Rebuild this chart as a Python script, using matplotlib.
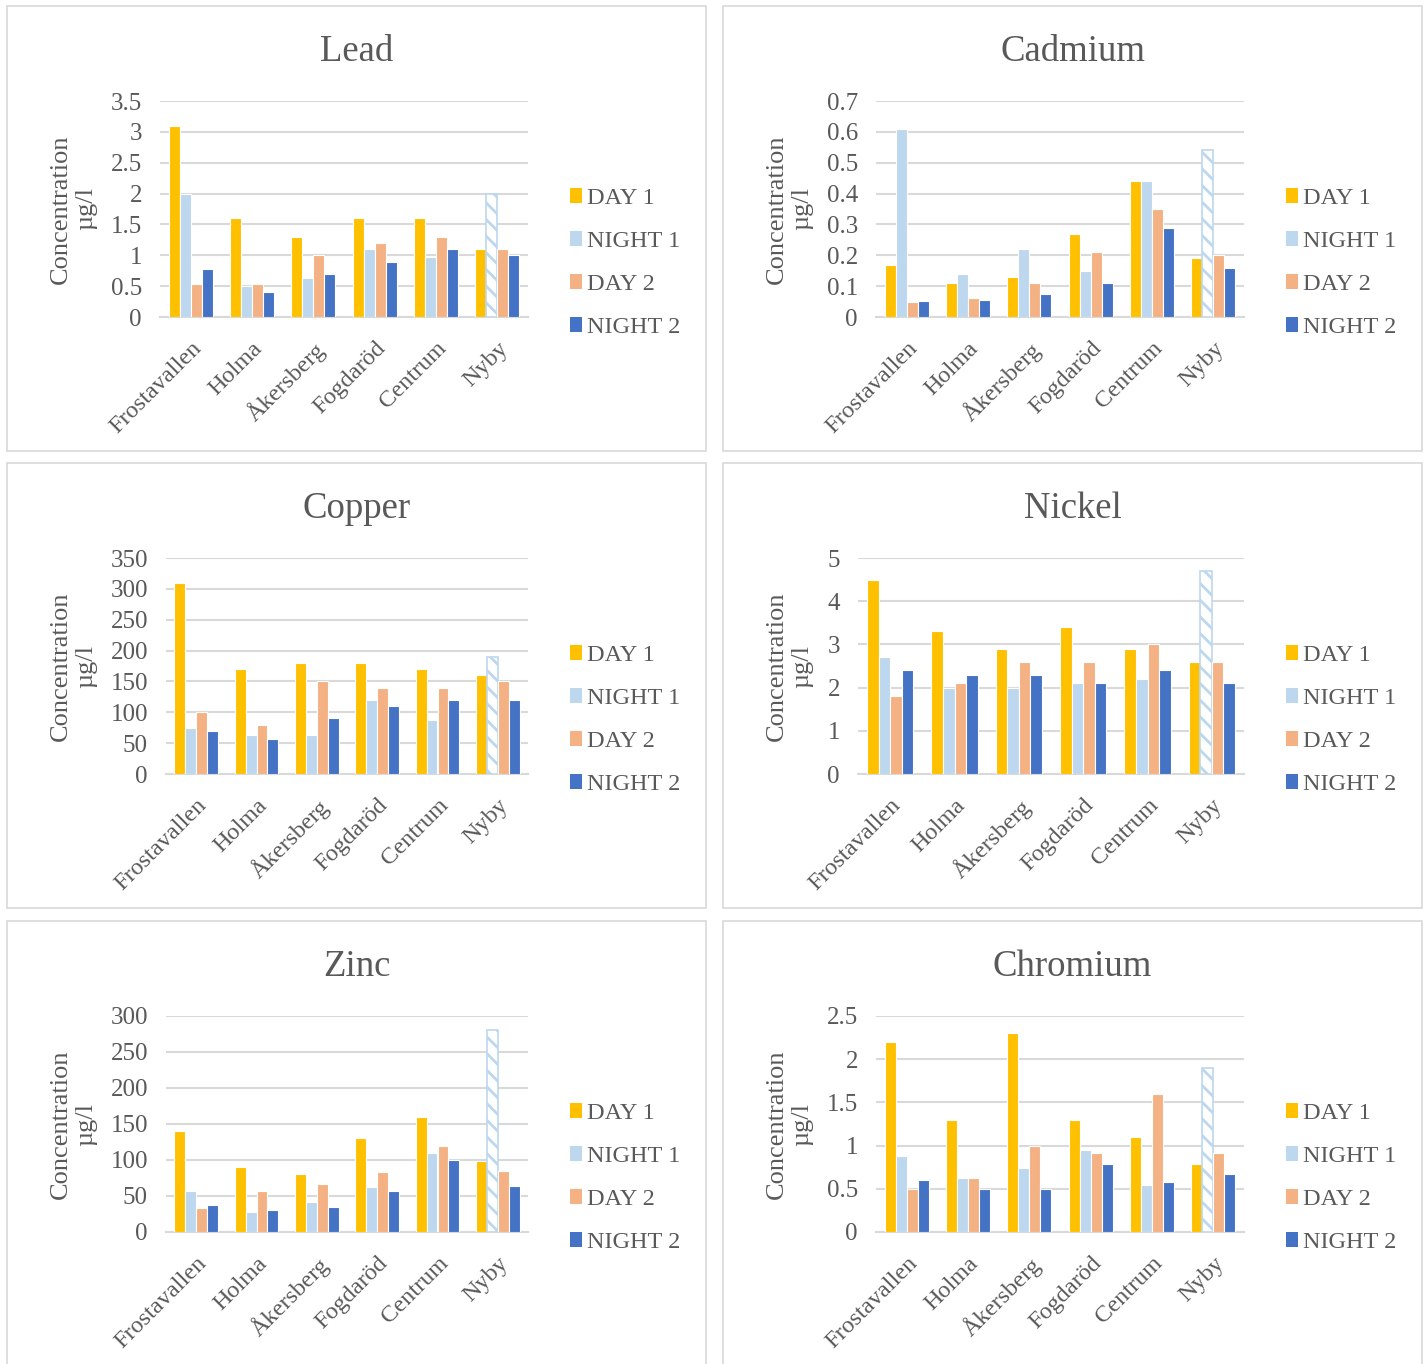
import matplotlib.pyplot as plt
import numpy as np
from matplotlib.patches import Rectangle, Patch

plt.rcParams["font.family"] = ["Liberation Serif", "DejaVu Serif"]
plt.rcParams["hatch.linewidth"] = 2.0

sites = ["Frostavallen", "Holma", "Åkersberg", "Fogdaröd", "Centrum", "Nyby"]
series = ["DAY 1", "NIGHT 1", "DAY 2", "NIGHT 2"]
colors = ["#FFC000", "#BDD7EE", "#F4B183", "#4472C4"]

lead = [
    [3.1, 1.6, 1.3, 1.6, 1.6, 1.1],
    [2.0, 0.5, 0.63, 1.1, 0.98, 2.0],
    [0.54, 0.54, 1.0, 1.2, 1.3, 1.1],
    [0.78, 0.41, 0.69, 0.89, 1.1, 1.0],
]
cadmium = [
    [0.17, 0.11, 0.13, 0.27, 0.44, 0.19],
    [0.61, 0.14, 0.22, 0.15, 0.44, 0.54],
    [0.05, 0.06, 0.11, 0.21, 0.35, 0.20],
    [0.052, 0.055, 0.076, 0.11, 0.29, 0.16],
]
copper = [
    [310, 170, 180, 180, 170, 160],
    [74, 64, 64, 120, 87, 190],
    [100, 79, 150, 140, 140, 150],
    [70, 57, 90, 110, 120, 120],
]
nickel = [
    [4.5, 3.3, 2.9, 3.4, 2.9, 2.6],
    [2.7, 2.0, 2.0, 2.1, 2.2, 4.7],
    [1.8, 2.1, 2.6, 2.6, 3.0, 2.6],
    [2.4, 2.3, 2.3, 2.1, 2.4, 2.1],
]
zinc = [
    [140, 90, 81, 130, 160, 98],
    [57, 28, 41, 63, 110, 280],
    [34, 57, 67, 84, 120, 85],
    [37, 31, 35, 57, 100, 64],
]
chromium = [
    [2.2, 1.3, 2.3, 1.3, 1.1, 0.79],
    [0.88, 0.62, 0.74, 0.95, 0.54, 1.9],
    [0.5, 0.62, 1.0, 0.92, 1.6, 0.91],
    [0.6, 0.5, 0.5, 0.79, 0.58, 0.67],
]

# (title, data, ymax, ystep, tick labels, panel left px, panel top px, plot left offset)
panels = [
    ("Lead", lead, 3.5, 0.5, ["0", "0.5", "1", "1.5", "2", "2.5", "3", "3.5"], 7, 6, 153),
    ("Cadmium", cadmium, 0.7, 0.1, ["0", "0.1", "0.2", "0.3", "0.4", "0.5", "0.6", "0.7"], 723, 6, 153),
    ("Copper", copper, 350, 50, ["0", "50", "100", "150", "200", "250", "300", "350"], 7, 463, 159),
    ("Nickel", nickel, 5, 1, ["0", "1", "2", "3", "4", "5"], 723, 463, 135),
    ("Zinc", zinc, 300, 50, ["0", "50", "100", "150", "200", "250", "300"], 7, 921, 159),
    ("Chromium", chromium, 2.5, 0.5, ["0", "0.5", "1", "1.5", "2", "2.5"], 723, 921, 153),
]

W, H = 1426, 1364
fig = plt.figure(figsize=(W / 100, H / 100), dpi=100)
text_c = "#595959"
grid_c = "#D9D9D9"

def fx(px):
    return px / W

def fy(py):
    return 1 - py / H

for title, data, ymax, ystep, ylabels, px, py, left_off in panels:
    # panel frame, kept behind the axes
    fig.patches.append(Rectangle((fx(px), fy(py + 445)), fx(699), 445 / H,
                                 transform=fig.transFigure, facecolor="white",
                                 edgecolor=grid_c, linewidth=1.2, zorder=-5))
    left = px + left_off
    right = px + 521
    top = py + 95
    bottom = top + 216
    ax = fig.add_axes([fx(left), fy(bottom), fx(right - left), (bottom - top) / H])
    ax.set_facecolor("none")
    ax.set_zorder(2)

    x = np.arange(len(sites))
    bw = 0.18
    for i, vals in enumerate(data):
        pos = x + (i - 1.5) * bw
        bars = ax.bar(pos, vals, width=bw, color=colors[i], edgecolor="white",
                      linewidth=0.8, zorder=3)
        if i == 1:
            # Nyby night 1 drawn with a pattern fill
            b = bars[-1]
            b.set_facecolor("white")
            b.set_edgecolor(colors[1])
            b.set_hatch("\\\\")
            b.set_linewidth(1.2)

    ax.set_xlim(-0.5, len(sites) - 0.5)
    ax.set_ylim(0, ymax)
    ticks = np.arange(len(ylabels)) * ystep
    ax.set_yticks(ticks)
    ax.set_yticklabels(ylabels)
    ax.yaxis.grid(True, color=grid_c, linewidth=1.5, zorder=0)
    ax.set_axisbelow(True)
    for s in ["top", "right", "left"]:
        ax.spines[s].set_visible(False)
    ax.spines["bottom"].set_color(grid_c)
    ax.spines["bottom"].set_linewidth(1.5)
    ax.tick_params(axis="y", length=0, pad=13, labelsize=18, labelcolor=text_c)
    ax.tick_params(axis="x", length=0, pad=15, labelsize=17.5, labelcolor=text_c)
    ax.set_xticks(x)
    ax.set_xticklabels(sites, rotation=45, ha="right", va="top", rotation_mode="anchor")

    fig.text(fx(px + 349.5), fy(py + 46), title, ha="center", va="center",
             fontsize=26.5, color=text_c)
    fig.text(fx(px + 66.5), fy((top + bottom) / 2), "Concentration\nµg/l",
             ha="center", va="center", rotation=90, fontsize=19, color=text_c,
             linespacing=1.2)

    handles = [Patch(facecolor=c, edgecolor="none") for c in colors]
    fig.legend(handles, series, loc="center left",
               bbox_to_anchor=(fx(px + 541), fy(py + 257)), frameon=False,
               fontsize=17.5, labelcolor=text_c, handlelength=0.5, handleheight=0.55,
               handletextpad=0.2, labelspacing=0.9)

fig.savefig("out.png", dpi=100, facecolor="white")
